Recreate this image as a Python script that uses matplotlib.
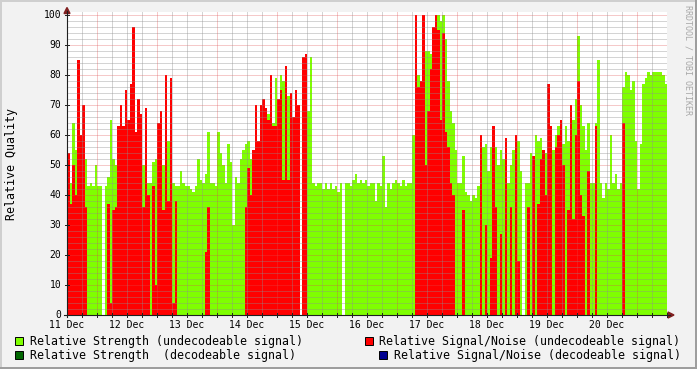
import numpy as np
import matplotlib
matplotlib.use("Agg")
import matplotlib.pyplot as plt
from matplotlib.patches import Rectangle, Polygon
from matplotlib.lines import Line2D

W, H = 697, 369

# rrdtool-ish colours
BACK = "#F2F2F2"
SHADE_A = "#CFCFCF"
SHADE_B = "#9E9E9E"
GRID = (0.56, 0.56, 0.56, 0.75)
MGRID = (0.87, 0.31, 0.31, 0.60)
ARROW = (0.50, 0.12, 0.12)
AXIS = (0.12, 0.12, 0.12)

day_labels = ["11 Dec", "12 Dec", "13 Dec", "14 Dec", "15 Dec",
              "16 Dec", "17 Dec", "18 Dec", "19 Dec", "20 Dec"]

# one value per hour, 11 Dec 00:00 -> 21 Dec 00:00
strength_undecodeable = [
    54, 44, 64, 55, 54, 56, 52, 52, 43, 44, 43, 50, 43, 43, 0, 43, 46, 65, 52, 50, 55, 56, 60, 60,  # 11
    60, 60, 60, 59, 55, 55, 50, 50, 44, 44, 51, 52, 52, 52, 50, 58, 58, 55, 44, 43, 43, 48, 44, 43,  # 12
    43, 42, 41, 43, 52, 45, 44, 47, 61, 44, 44, 43, 61, 54, 50, 44, 57, 51, 30, 46, 44, 52, 55, 57,  # 13
    58, 52, 52, 40, 55, 70, 65, 62, 67, 72, 64, 79, 68, 80, 78, 75, 73, 70, 60, 60, 60, 0, 84, 85,   # 14
    68, 86, 44, 43, 44, 44, 42, 44, 42, 44, 42, 43, 41, 44, 0, 44, 44, 43, 45, 47, 44, 45, 44, 45,   # 15
    43, 44, 44, 38, 44, 43, 53, 36, 44, 42, 44, 45, 44, 43, 45, 43, 44, 44, 60, 95, 80, 78, 100, 88, # 16
    88, 87, 96, 100, 100, 98, 100, 92, 78, 68, 64, 55, 44, 44, 53, 41, 40, 38, 40, 39, 43, 55, 56, 57,  # 17
    48, 56, 60, 56, 50, 55, 52, 49, 44, 50, 55, 55, 58, 48, 0, 44, 44, 54, 53, 60, 58, 59, 55, 54,  # 18
    52, 62, 55, 60, 63, 60, 57, 63, 58, 68, 65, 72, 93, 70, 63, 55, 64, 44, 44, 64, 85, 44, 39, 44,  # 19
    42, 60, 44, 47, 42, 44, 76, 81, 80, 75, 78, 58, 42, 57, 77, 79, 81, 80, 81, 81, 81, 81, 80, 77,  # 20
]
snr_undecodeable = [
    54, 37, 50, 40, 85, 60, 70, 36, 0, 0, 0, 0, 0, 0, 0, 0, 37, 4, 35, 36, 63, 70, 63, 75,           # 11
    65, 77, 96, 61, 72, 67, 36, 69, 40, 0, 43, 10, 64, 68, 35, 80, 38, 79, 4, 38, 0, 0, 0, 0,        # 12
    0, 0, 0, 0, 0, 0, 0, 21, 36, 0, 0, 0, 0, 0, 0, 0, 0, 0, 0, 0, 0, 0, 0, 36,                      # 13
    49, 40, 55, 70, 58, 70, 72, 69, 65, 80, 63, 63, 72, 75, 45, 83, 45, 74, 66, 75, 70, 0, 86, 87,   # 14
    0, 0, 0, 0, 0, 0, 0, 0, 0, 0, 0, 0, 0, 0, 0, 0, 0, 0, 0, 0, 0, 0, 0, 0,                         # 15
    0, 0, 0, 0, 0, 0, 0, 0, 0, 0, 0, 0, 0, 0, 0, 0, 0, 0, 0, 100, 76, 78, 100, 50,                  # 16
    68, 82, 96, 100, 95, 65, 94, 61, 56, 44, 40, 0, 0, 0, 35, 0, 0, 0, 0, 0, 0, 60, 0, 30,          # 17
    0, 19, 63, 36, 0, 27, 0, 59, 0, 36, 0, 60, 18, 0, 0, 0, 36, 0, 53, 0, 37, 52, 55, 40,           # 18
    77, 63, 0, 56, 60, 65, 50, 0, 35, 70, 32, 60, 78, 40, 33, 0, 48, 0, 0, 63, 0, 0, 0, 0,          # 19
    0, 0, 0, 0, 0, 0, 64, 0, 0, 0, 0, 0, 0, 0, 0, 0, 0, 0, 0, 0, 0, 0, 0, 0,                        # 20
]
# nothing was decoded in this window, only listed in the legend
strength_decodeable = []
snr_decodeable = []

legend_items = [
    ("Relative Strength (undecodeable signal)", "#7FFF00"),
    ("Relative Signal/Noise (undecodeable signal)", "#FF0000"),
    ("Relative Strength  (decodeable signal)", "#006600"),
    ("Relative Signal/Noise (decodeable signal)", "#000090"),
]

plt.rcParams["font.family"] = ["DejaVu Sans Mono"]


def fx(x):
    return x / W


def fy(y):
    return 1 - y / H


fig = plt.figure(figsize=(W / 100, H / 100), dpi=100, facecolor=BACK)

# graph area: 0 at y=315, 100 at y=15, 11 Dec at x=67, 60px per day
ax = fig.add_axes([fx(67), fy(315), 600 / W, 303 / H])
ax.set_xlim(0, len(strength_undecodeable))
ax.set_ylim(0, 101)
ax.set_facecolor("white")
for s in ax.spines.values():
    s.set_visible(False)
ax.set_xticks([])
ax.set_yticks([])

edges = np.arange(len(strength_undecodeable) + 1)
ax.stairs(strength_undecodeable, edges, baseline=0, fill=True,
          color=legend_items[0][1], lw=0, zorder=1)
ax.stairs(snr_undecodeable, edges, baseline=0, fill=True,
          color=legend_items[1][1], lw=0, zorder=2)
if len(strength_decodeable):
    ax.stairs(strength_decodeable, edges, fill=True, color=legend_items[2][1], lw=0, zorder=3)
if len(snr_decodeable):
    ax.stairs(snr_decodeable, edges, fill=True, color=legend_items[3][1], lw=0, zorder=4)

# dotted grid on top of the areas
dot = (0, (1, 1))
for v in range(2, 101, 2):
    ax.axhline(v, color=MGRID if v % 10 == 0 else GRID, lw=0.72, ls=dot, zorder=5)
for h in range(6, 241, 6):
    ax.axvline(h, color=MGRID if (h - 12) % 24 == 0 else GRID, lw=0.72, ls=dot, zorder=5)

# axes with arrows
fig.add_artist(Line2D([fx(67), fx(67)], [fy(317), fy(11)], color=AXIS, lw=0.8))
fig.add_artist(Line2D([fx(64), fx(670)], [fy(315), fy(315)], color=AXIS, lw=0.8))
fig.add_artist(Polygon([(fx(64), fy(13.5)), (fx(70), fy(13.5)), (fx(67), fy(7.5))],
                       closed=True, color=ARROW, transform=fig.transFigure))
fig.add_artist(Polygon([(fx(668), fy(312)), (fx(668), fy(318)), (fx(674), fy(315))],
                       closed=True, color=ARROW, transform=fig.transFigure))
for v in range(0, 101, 10):
    y = 315 - 3.0 * v
    fig.add_artist(Line2D([fx(65), fx(69)], [fy(y), fy(y)], color=AXIS, lw=0.7))
for h in range(0, 241, 6):
    x = 67 + 2.5 * h
    fig.add_artist(Line2D([fx(x), fx(x)], [fy(313), fy(317)], color=AXIS, lw=0.7))

# tick labels
for v in range(0, 101, 10):
    fig.text(fx(61.5), fy(315 - 3.0 * v), str(v), ha="right", va="center", fontsize=7)
for i, lab in enumerate(day_labels):
    fig.text(fx(67 + 60 * i), fy(324.5), lab, ha="center", va="center", fontsize=7)

fig.text(fx(11.5), fy(164), "Relative Quality", rotation=90,
         ha="center", va="center", fontsize=8.4)
fig.text(fx(688), fy(60), "RRDTOOL / TOBI OETIKER", rotation=270,
         ha="center", va="center", fontsize=6, color="#A8A8A8")

# legend, two columns like rrdtool
legend_pos = [(15, 30, 341), (364.5, 379, 341), (15, 30, 355), (379, 394, 355)]
for (lab, col), (sx, tx, ty) in zip(legend_items, legend_pos):
    fig.add_artist(Rectangle((fx(sx), fy(ty + 4)), 8 / W, 8 / H, transform=fig.transFigure,
                             facecolor=col, edgecolor="black", lw=0.7))
    fig.text(fx(tx), fy(ty), lab, ha="left", va="center", fontsize=8.4)

# 3d frame
fig.add_artist(Rectangle((0, fy(2)), 1, 2 / H, transform=fig.transFigure, color=SHADE_A, lw=0))
fig.add_artist(Rectangle((0, 0), 2 / W, 1, transform=fig.transFigure, color=SHADE_A, lw=0))
fig.add_artist(Rectangle((0, 0), 1, 2 / H, transform=fig.transFigure, color=SHADE_B, lw=0))
fig.add_artist(Rectangle((fx(695), 0), 2 / W, 1, transform=fig.transFigure, color=SHADE_B, lw=0))

fig.savefig("out.png", dpi=100, facecolor=BACK)
